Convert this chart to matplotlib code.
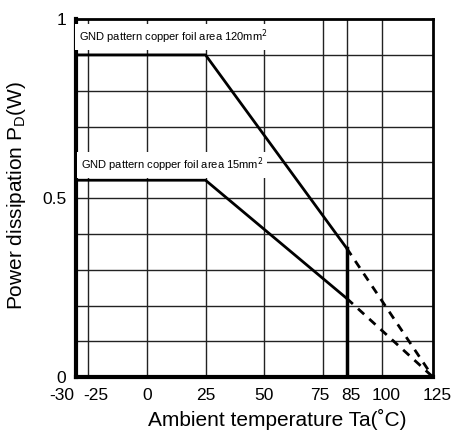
import matplotlib
matplotlib.use('Agg')
import matplotlib.pyplot as plt
from matplotlib.transforms import ScaledTranslation

plt.rcParams['font.family'] = ['Liberation Sans', 'DejaVu Sans']

# derating curves (Ta in degC, Pd in W)
ta_120 = [-30, 25, 85]
pd_120 = [0.9, 0.9, 0.36]
ta_120_dash = [85, 125]
pd_120_dash = [0.36, 0.0]

ta_15 = [-30, 25, 85]
pd_15 = [0.55, 0.55, 0.22]
ta_15_dash = [85, 125]
pd_15_dash = [0.22, 0.0]

ta_limit = [85, 85]
pd_limit = [0.0, 0.36]

x_ticks = [-30, -25, 0, 25, 50, 75, 85, 100, 125]
x_grid = [-25, 0, 25, 50, 75, 85, 100]
y_ticks = [0, 0.5, 1]
y_grid = [0.1, 0.2, 0.3, 0.4, 0.5, 0.6, 0.7, 0.8, 0.9]

# the original sheet squeezes the 100..125 span a little
K = 0.868


def fwd(x):
    return np.where(x <= 100, x, 100 + (x - 100) * K)


def inv(x):
    return np.where(x <= 100, x, 100 + (x - 100) / K)


import numpy as np

fig = plt.figure(figsize=(4.53, 4.34), dpi=100)
ax = fig.add_axes([0.168, 0.131, 0.788, 0.825])
ax.set_xscale('function', functions=(fwd, inv))

for x in x_grid:
    ax.axvline(x, color='#222222', lw=1.0, zorder=1)
for y in y_grid:
    ax.axhline(y, color='#222222', lw=1.0, zorder=1)

ax.plot(ta_120, pd_120, color='black', lw=2.0, zorder=3)
ax.plot(ta_15, pd_15, color='black', lw=2.0, zorder=3)
ax.plot(ta_120_dash, pd_120_dash, color='black', lw=2.0, dashes=(3, 2.5), zorder=3)
ax.plot(ta_15_dash, pd_15_dash, color='black', lw=2.0, dashes=(3, 2.5), zorder=3)
ax.plot(ta_limit, pd_limit, color='black', lw=2.5, zorder=3)

lab_font = ['Liberation Sans Narrow', 'Liberation Sans', 'DejaVu Sans']
ax.text(-28.8, 0.95, 'GND pattern copper foil area 120mm$^2$', fontsize=8,
        family=lab_font, va='center', ha='left', zorder=4,
        bbox=dict(facecolor='white', edgecolor='none', pad=2.5))
ax.text(-28.0, 0.592, 'GND pattern copper foil area 15mm$^2$', fontsize=8,
        family=lab_font, va='center', ha='left', zorder=4,
        bbox=dict(facecolor='white', edgecolor='none', pad=2.5))

ax.set_xlim(-30, 125)
ax.set_ylim(0, 1)
ax.set_xticks(x_ticks)
ax.set_xticklabels([str(v) for v in x_ticks])
ax.set_yticks(y_ticks)
ax.set_yticklabels(['0', '0.5', '1'])
ax.tick_params(axis='x', length=0, labelsize=12.5, pad=8)
ax.tick_params(axis='y', length=0, labelsize=12.5, pad=7)

# nudge crowded tick labels sideways like the original
shifts = {-30: -14, -25: 8, 75: -3, 85: 4, 100: 4, 125: 4}
for val, lab in zip(x_ticks, ax.get_xticklabels()):
    if val in shifts:
        dx = shifts[val] / fig.dpi
        lab.set_transform(lab.get_transform() + ScaledTranslation(dx, 0, fig.dpi_scale_trans))

for side in ['left', 'bottom']:
    ax.spines[side].set_linewidth(3.0)
for side in ['top', 'right']:
    ax.spines[side].set_linewidth(2.0)

ax.set_xlabel('Ambient temperature Ta(˚C)', fontsize=15)
ax.set_ylabel('Power dissipation P$_{\\mathregular{D}}$(W)', fontsize=15)
ax.xaxis.set_label_coords(0.564, -0.088)
ax.yaxis.set_label_coords(-0.135, 0.506)

fig.savefig('out.png', dpi=100)
